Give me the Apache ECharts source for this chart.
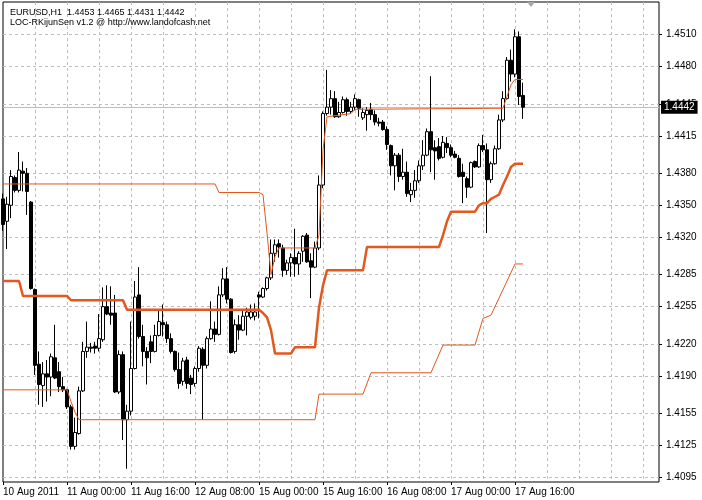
<!DOCTYPE html>
<html><head><meta charset="utf-8">
<script src="https://cdn.jsdelivr.net/npm/echarts@6/dist/echarts.min.js"></script>
<style>html,body{margin:0;padding:0;background:#fff}#c{width:702px;height:500px}</style>
</head><body><div id="c"></div>
<script>
const symbolName = 'EURUSD,H1';
const indicatorName = 'LOC-RKijunSen v1.2 @ http://www.landofcash.net';
const timeTickLabels = ['10 Aug 2011','11 Aug 00:00','11 Aug 16:00','12 Aug 08:00','15 Aug 00:00','15 Aug 16:00','16 Aug 08:00','17 Aug 00:00','17 Aug 16:00'];
const barsPerTimeLabel = 16;
const barsPerGridLine = 8;
const slotCount = 165; // bars plus empty chart-shift area
const priceTicks = [1.4095,1.4125,1.4155,1.4190,1.4220,1.4255,1.4285,1.4320,1.4350,1.4380,1.4415,1.4445,1.4480,1.4510];
const bidPrice = 1.4442;

const opens = [1.4356,1.4335,1.4350,1.4376,1.4364,1.4382,1.4380,1.4353,1.4271,1.4201,
1.4181,1.4192,1.4189,1.4207,1.4194,1.4180,1.4177,1.4161,1.4124,1.4136,
1.4176,1.4213,1.4217,1.4218,1.4216,1.4224,1.4255,1.4249,1.4249,1.4175,
1.4210,1.4149,1.4157,1.4197,1.4266,1.4227,1.4213,1.4222,1.4213,1.4228,
1.4240,1.4238,1.4225,1.4213,1.4196,1.4185,1.4205,1.4188,1.4183,1.4197,
1.4215,1.4200,1.4225,1.4234,1.4229,1.4266,1.4281,1.4262,1.4213,1.4238,
1.4233,1.4246,1.4245,1.4246,1.4266,1.4264,1.4272,1.4282,1.4305,1.4314,
1.4310,1.4289,1.4296,1.4301,1.4295,1.4307,1.4322,1.4298,1.4292,1.4310,
1.4369,1.4436,1.4442,1.4450,1.4433,1.4437,1.4449,1.4438,1.4442,1.4449,
1.4432,1.4435,1.4440,1.4435,1.4428,1.4428,1.4421,1.4406,1.4387,1.4397,
1.4377,1.4381,1.4360,1.4364,1.4373,1.4387,1.4397,1.4419,1.4404,1.4405,
1.4395,1.4408,1.4404,1.4398,1.4394,1.4381,1.4375,1.4367,1.4391,1.4386,
1.4406,1.4402,1.4374,1.4389,1.4403,1.4430,1.4450,1.4486,1.4473,1.4508,
1.4453];
const highs = [1.4361,1.4358,1.4383,1.4378,1.4400,1.4391,1.4385,1.4354,1.4272,1.4213,
1.4203,1.4205,1.4211,1.4238,1.4203,1.4189,1.4178,1.4163,1.4151,1.4180,
1.4222,1.4241,1.4221,1.4222,1.4248,1.4273,1.4275,1.4274,1.4266,1.4214,
1.4213,1.4163,1.4241,1.4279,1.4292,1.4238,1.4217,1.4228,1.4238,1.4251,
1.4257,1.4241,1.4230,1.4214,1.4212,1.4207,1.4208,1.4191,1.4199,1.4218,
1.4217,1.4227,1.4260,1.4241,1.4274,1.4291,1.4292,1.4263,1.4243,1.4247,
1.4251,1.4254,1.4257,1.4258,1.4269,1.4273,1.4283,1.4318,1.4318,1.4318,
1.4313,1.4299,1.4305,1.4328,1.4307,1.4322,1.4324,1.4305,1.4316,1.4378,
1.4438,1.4477,1.4458,1.4457,1.4447,1.4452,1.4451,1.4447,1.4454,1.4450,
1.4441,1.4442,1.4446,1.4439,1.4432,1.4430,1.4424,1.4407,1.4399,1.4399,
1.4403,1.4391,1.4371,1.4383,1.4392,1.4411,1.4422,1.4471,1.4411,1.4413,
1.4415,1.4414,1.4407,1.4401,1.4397,1.4389,1.4377,1.4391,1.4392,1.4408,
1.4416,1.4408,1.4391,1.4406,1.4435,1.4457,1.4489,1.4496,1.4515,1.4513,
1.4465];
const lows = [1.4326,1.4309,1.4338,1.4362,1.4362,1.4363,1.4341,1.4271,1.4191,1.4163,
1.4161,1.4166,1.4171,1.4187,1.4175,1.4175,1.4159,1.4121,1.4121,1.4135,
1.4175,1.4207,1.4212,1.4211,1.4213,1.4222,1.4247,1.4238,1.4174,1.4173,
1.4130,1.4103,1.4153,1.4196,1.4225,1.4199,1.4182,1.4202,1.4212,1.4227,
1.4227,1.4221,1.4211,1.4194,1.4178,1.4181,1.4178,1.4173,1.4180,1.4194,
1.4149,1.4197,1.4224,1.4222,1.4228,1.4264,1.4258,1.4211,1.4211,1.4224,
1.4232,1.4228,1.4243,1.4242,1.4244,1.4263,1.4270,1.4280,1.4297,1.4301,
1.4283,1.4285,1.4283,1.4283,1.4285,1.4297,1.4296,1.4263,1.4291,1.4308,
1.4366,1.4434,1.4435,1.4432,1.4432,1.4436,1.4434,1.4436,1.4439,1.4433,
1.4430,1.4420,1.4430,1.4425,1.4424,1.4420,1.4402,1.4378,1.4364,1.4372,
1.4374,1.4358,1.4353,1.4357,1.4371,1.4383,1.4396,1.4381,1.4374,1.4392,
1.4394,1.4399,1.4395,1.4394,1.4376,1.4352,1.4357,1.4366,1.4385,1.4385,
1.4400,1.4324,1.4371,1.4388,1.4402,1.4428,1.4449,1.4466,1.4470,1.4444,
1.4431];
const closes = [1.4332,1.4351,1.4377,1.4364,1.4383,1.4380,1.4363,1.4272,1.4200,1.4182,
1.4192,1.4189,1.4208,1.4188,1.4180,1.4177,1.4161,1.4124,1.4137,1.4176,
1.4213,1.4217,1.4216,1.4216,1.4225,1.4255,1.4248,1.4247,1.4175,1.4210,
1.4149,1.4157,1.4197,1.4264,1.4227,1.4213,1.4207,1.4213,1.4228,1.4241,
1.4238,1.4225,1.4213,1.4196,1.4183,1.4204,1.4183,1.4182,1.4197,1.4216,
1.4200,1.4225,1.4234,1.4229,1.4266,1.4281,1.4262,1.4212,1.4238,1.4233,
1.4246,1.4250,1.4250,1.4250,1.4264,1.4272,1.4282,1.4305,1.4313,1.4311,
1.4289,1.4296,1.4301,1.4295,1.4305,1.4321,1.4297,1.4292,1.4310,1.4369,
1.4436,1.4442,1.4450,1.4433,1.4437,1.4449,1.4438,1.4442,1.4450,1.4441,
1.4437,1.4439,1.4435,1.4428,1.4427,1.4421,1.4407,1.4387,1.4397,1.4377,
1.4381,1.4361,1.4364,1.4373,1.4387,1.4397,1.4419,1.4402,1.4401,1.4394,
1.4409,1.4404,1.4397,1.4395,1.4377,1.4377,1.4367,1.4390,1.4386,1.4406,
1.4402,1.4374,1.4389,1.4403,1.4430,1.4450,1.4486,1.4473,1.4508,1.4452,
1.4442];

// indicator vertices: [bar index, price]
const kijunUpper = [[0,1.4370],[53,1.4370],[54,1.4362],[64,1.4362],[65,1.4360],[66,1.4324],[67,1.4285],[68,1.4302],[69,1.4310],[78,1.4310],[79,1.4322],[80,1.4402],[81,1.4433],[87,1.4436],[88,1.4440],[125,1.4441],[126,1.4452],[127,1.4463],[128,1.4468],[130,1.4468]];
const kijunMid = [[0,1.4279],[4,1.4279],[5,1.4265],[16,1.4265],[17,1.4261],[30,1.4261],[31,1.4252],[64,1.4252],[65,1.4249],[66,1.4245],[67,1.4233],[68,1.4211],[72,1.4211],[73,1.4217],[78,1.4217],[79,1.4254],[80,1.4275],[81,1.4289],[90,1.4289],[91,1.4311],[109,1.4311],[110,1.4322],[111,1.4335],[112,1.4344],[118,1.4344],[119,1.4350],[120,1.4352],[121,1.4352],[122,1.4356],[123,1.4358],[124,1.4360],[125,1.4369],[126,1.4377],[127,1.4386],[128,1.4389],[130,1.4389]];
const kijunLower = [[0,1.4177],[16,1.4177],[17,1.4166],[18,1.4156],[19,1.4149],[78,1.4149],[79,1.4173],[90,1.4173],[92,1.4193],[107,1.4193],[110,1.4219],[118,1.4219],[120,1.4244],[122,1.4247],[128,1.4295],[130,1.4295]];

const lineColor = '#E2581D';
const fontFamily = 'Liberation Sans, Arial, sans-serif';

const categories = Array.from({length: slotCount}, (_, i) => String(i));
const candleData = opens.map((o, i) => [o, closes[i], lows[i], highs[i]]);
const last = opens.length - 1;
const header = `${symbolName}  ${opens[last].toFixed(4)} ${highs[last].toFixed(4)} ${lows[last].toFixed(4)} ${closes[last].toFixed(4)}`;

const isTimeTick = (idx) => idx % barsPerTimeLabel === 0 && idx / barsPerTimeLabel < timeTickLabels.length;

const chart = echarts.init(document.getElementById('c'), null, {renderer: 'canvas'});
chart.setOption({
  animation: false,
  backgroundColor: '#fff',
  title: [
    {text: header, left: 5, top: 3, textStyle: {fontSize: 9, fontWeight: 'normal', color: '#000', fontFamily}},
    {text: indicatorName, left: 5, top: 13, textStyle: {fontSize: 9, fontWeight: 'normal', color: '#000', fontFamily}}
  ],
  grid: {left: 3, right: 43, top: 2, bottom: 18, show: true, borderColor: '#000', borderWidth: 1, backgroundColor: '#fff'},
  xAxis: {
    type: 'category', data: categories, boundaryGap: false,
    axisLine: {show: false},
    axisTick: {show: true, length: 3, interval: (i) => isTimeTick(i), lineStyle: {color: '#000'}},
    axisLabel: {interval: (i) => isTimeTick(i), formatter: (v, i) => timeTickLabels[Number(v) / barsPerTimeLabel] || '', align: 'left', fontSize: 10, color: '#000', fontFamily, margin: 5},
    splitLine: {show: true, interval: (i) => i > 0 && i % barsPerGridLine === 0, lineStyle: {color: '#BDBDBD', type: [3, 3], width: 1}}
  },
  yAxis: {
    type: 'value', position: 'right', min: 1.409060, max: 1.454059, scale: true,
    axisLine: {show: false},
    axisTick: {show: true, length: 3, customValues: priceTicks, lineStyle: {color: '#000'}},
    axisLabel: {customValues: priceTicks, formatter: (v) => v.toFixed(4), fontSize: 10, color: '#000', fontFamily, margin: 7},
    splitLine: {show: true, lineStyle: {color: '#BDBDBD', type: [3, 3], width: 1}}
  },
  graphic: [{type: 'polygon', shape: {points: [[527, 2], [535, 2], [531, 7]]}, style: {fill: '#A8A8A8'}, z: 10}],
  series: [
    {
      type: 'candlestick', data: candleData, barWidth: 3,
      itemStyle: {color: '#fff', color0: '#000', borderColor: '#000', borderColor0: '#000', borderWidth: 1},
      z: 2
    },
    {
      type: 'line', data: kijunUpper, symbol: 'none', lineStyle: {color: lineColor, width: 1}, z: 3, silent: true,
      markLine: {
        silent: true, symbol: 'none', animation: false, precision: 4, z: 1,
        lineStyle: {color: '#BEBEBE', type: 'solid', width: 1},
        label: {show: true, position: 'end', distance: 2, formatter: () => bidPrice.toFixed(4), backgroundColor: '#000', color: '#fff', padding: [2, 3, 1, 3], fontSize: 10, fontFamily},
        data: [{yAxis: bidPrice}]
      }
    },
    {type: 'line', data: kijunMid, symbol: 'none', lineStyle: {color: lineColor, width: 2.5}, z: 3, silent: true},
    {type: 'line', data: kijunLower, symbol: 'none', lineStyle: {color: lineColor, width: 1}, z: 3, silent: true}
  ]
});
</script>
</body></html>
